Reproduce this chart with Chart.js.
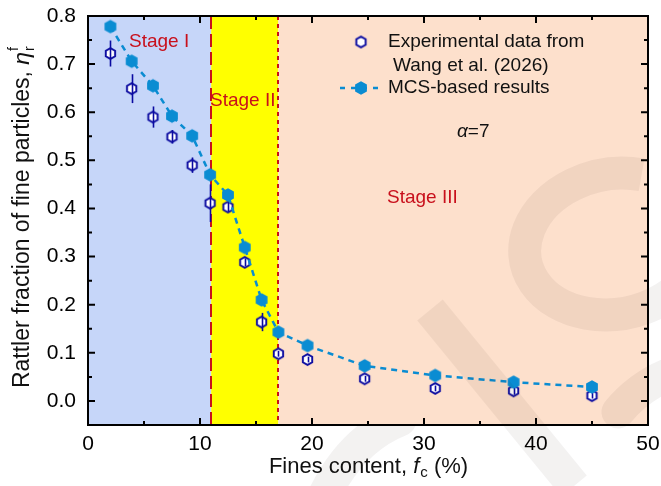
<!DOCTYPE html>
<html>
<head>
<meta charset="utf-8">
<script src="https://cdn.jsdelivr.net/npm/chart.js@4.4.1/dist/chart.umd.min.js"></script>
<style>html,body{margin:0;padding:0;background:#fff}</style>
</head>
<body>
<canvas id="chart" width="661" height="486"></canvas>
<script>
// values
const mcsX = [2, 3.9, 5.8, 7.5, 9.3, 10.9, 12.5, 14, 15.5, 17, 19.6, 24.7, 31, 38, 45];
const mcsY = [0.778, 0.706, 0.655, 0.592, 0.551, 0.470, 0.428, 0.319, 0.210, 0.143, 0.115, 0.073, 0.053, 0.039, 0.029];
const expX = [2, 3.9, 5.8, 7.5, 9.3, 10.9, 12.5, 14, 15.5, 17, 19.6, 24.7, 31, 38, 45];
const expY = [0.722, 0.649, 0.590, 0.549, 0.490, 0.411, 0.403, 0.288, 0.164, 0.098, 0.086, 0.046, 0.026, 0.021, 0.011];
const expErr = [0.027, 0.030, 0.022, 0.014, 0.016, 0.039, 0.010, 0.008, 0.019, 0.006, 0.006, 0.006, 0.006, 0.008, 0.006];
const stageEdges = [0, 11, 17, 50];
const stageNames = ['Stage I', 'Stage II', 'Stage III'];
const xTicks = [0, 10, 20, 30, 40, 50];
const yTicks = [0, 0.1, 0.2, 0.3, 0.4, 0.5, 0.6, 0.7, 0.8];

const FONT = '"Liberation Sans", Arial, sans-serif';
const NAVY = '#0a0aa0';
const BLUE = '#0a8cd2';
const RED = '#c8101c';

function hexagon(r, fill, stroke, lw) {
    var s = Math.ceil(2 * r + lw + 2);
    var c = document.createElement('canvas');
    c.width = s; c.height = s;
    var g = c.getContext('2d');
    g.beginPath();
    for (var i = 0; i < 6; i++) {
        var a = Math.PI / 2 + i * Math.PI / 3;
        var px = s / 2 + r * Math.cos(a), py = s / 2 + r * Math.sin(a);
        if (i) g.lineTo(px, py); else g.moveTo(px, py);
    }
    g.closePath();
    g.fillStyle = fill;
    g.fill();
    if (stroke) { g.lineWidth = lw; g.strokeStyle = stroke; g.stroke(); }
    return c;
}
var hexOpen = hexagon(5.4, '#ffffff', NAVY, 1.9);
var hexFull = hexagon(6.8, BLUE, null, 0);

function pts(xs, ys) { return xs.map(function (x, i) { return {x: x, y: ys[i]}; }); }

var decor = {
    id: 'decor',
    beforeDatasetsDraw: function (chart) {
        var ctx = chart.ctx, a = chart.chartArea, xs = chart.scales.x;
        var fills = ['#c6d6f9', '#ffff00', '#fde0cc'];
        ctx.save();
        for (var i = 0; i < 3; i++) {
            var x0 = xs.getPixelForValue(stageEdges[i]), x1 = xs.getPixelForValue(stageEdges[i + 1]);
            ctx.fillStyle = fills[i];
            ctx.fillRect(x0, a.top, x1 - x0, a.bottom - a.top);
        }
        ctx.strokeStyle = RED;
        ctx.lineWidth = 2;
        [[11, [13, 5]], [17, [4, 4]]].forEach(function (d) {
            var x = Math.round(xs.getPixelForValue(d[0]));
            ctx.setLineDash(d[1]);
            ctx.beginPath(); ctx.moveTo(x, a.top); ctx.lineTo(x, a.bottom); ctx.stroke();
        });
        ctx.setLineDash([]);
        ctx.fillStyle = RED;
        ctx.font = '19px ' + FONT;
        ctx.textBaseline = 'middle';
        ctx.fillText(stageNames[0], 129, 42);
        ctx.fillText(stageNames[1], 210, 101);
        ctx.fillText(stageNames[2], 387, 198);
        ctx.restore();
    },
    afterDatasetDraw: function (chart, args) {
        if (args.index !== 1) return;
        var ctx = chart.ctx, xs = chart.scales.x, ys = chart.scales.y;
        ctx.save();
        ctx.strokeStyle = NAVY;
        ctx.lineWidth = 1.6;
        expX.forEach(function (x, i) {
            var px = Math.round(xs.getPixelForValue(x)) + 0.5;
            ctx.beginPath();
            ctx.moveTo(px, ys.getPixelForValue(expY[i] + expErr[i]));
            ctx.lineTo(px, ys.getPixelForValue(expY[i] - expErr[i]));
            ctx.stroke();
        });
        ctx.restore();
    },
    afterDraw: function (chart) {
        var ctx = chart.ctx, a = chart.chartArea, xs = chart.scales.x, ys = chart.scales.y;
        ctx.save();
        // frame and inward ticks
        ctx.strokeStyle = '#000';
        ctx.lineWidth = 2;
        ctx.strokeRect(a.left, a.top, a.right - a.left, a.bottom - a.top);
        ctx.beginPath();
        for (var v = 0; v <= 50; v += 5) {
            var px = xs.getPixelForValue(v), len = v % 10 === 0 ? 7 : 4;
            ctx.moveTo(px, a.bottom); ctx.lineTo(px, a.bottom - len);
            ctx.moveTo(px, a.top); ctx.lineTo(px, a.top + len);
        }
        for (var k = 0; k <= 16; k++) {
            var py = ys.getPixelForValue(k * 0.05), l2 = k % 2 === 0 ? 7 : 4;
            ctx.moveTo(a.left, py); ctx.lineTo(a.left + l2, py);
            ctx.moveTo(a.right, py); ctx.lineTo(a.right - l2, py);
        }
        ctx.stroke();

        // legend
        ctx.drawImage(hexOpen, 361 - hexOpen.width / 2, 42 - hexOpen.height / 2);
        ctx.strokeStyle = BLUE;
        ctx.lineWidth = 2.5;
        ctx.setLineDash([5, 6]);
        ctx.beginPath(); ctx.moveTo(340, 88); ctx.lineTo(382, 88); ctx.stroke();
        ctx.setLineDash([]);
        ctx.drawImage(hexFull, 361 - hexFull.width / 2, 88 - hexFull.height / 2);
        ctx.fillStyle = '#111';
        ctx.font = '19px ' + FONT;
        ctx.textBaseline = 'middle';
        ctx.fillText('Experimental data from', 388, 42);
        ctx.fillText('Wang et al. (2026)', 393, 66);
        ctx.fillText('MCS-based results', 388, 88);
        ctx.font = 'italic 19px ' + FONT;
        var wa = ctx.measureText('\u03b1').width;
        ctx.fillText('\u03b1', 457, 132);
        ctx.font = '19px ' + FONT;
        ctx.fillText('=7', 457 + wa, 132);

        // x axis title
        ctx.font = '22px ' + FONT;
        var t1 = 'Fines content, ', t2 = ' (%)';
        var w1 = ctx.measureText(t1).width, w4 = ctx.measureText(t2).width;
        ctx.font = 'italic 22px ' + FONT;
        var w2 = ctx.measureText('f').width;
        ctx.font = '15px ' + FONT;
        var w3 = ctx.measureText('c').width;
        var x0 = 368 - (w1 + w2 + w3 + w4) / 2, yT = 467;
        ctx.font = '22px ' + FONT;
        ctx.fillText(t1, x0, yT);
        ctx.font = 'italic 22px ' + FONT;
        ctx.fillText('f', x0 + w1, yT);
        ctx.font = '15px ' + FONT;
        ctx.fillText('c', x0 + w1 + w2 + 1, yT + 6);
        ctx.font = '22px ' + FONT;
        ctx.fillText(t2, x0 + w1 + w2 + w3 + 1, yT);

        // y axis title
        ctx.translate(23, 216);
        ctx.rotate(-Math.PI / 2);
        ctx.font = '23px ' + FONT;
        var s1 = 'Rattler fraction of fine particles, ';
        var ws1 = ctx.measureText(s1).width;
        ctx.font = 'italic 23px ' + FONT;
        var we = ctx.measureText('\u03b7').width;
        var total = ws1 + we + 8;
        var sx = -total / 2;
        ctx.font = '23px ' + FONT;
        ctx.fillText(s1, sx, 0);
        ctx.font = 'italic 23px ' + FONT;
        ctx.fillText('\u03b7', sx + ws1, 0);
        ctx.font = '14px ' + FONT;
        ctx.fillText('f', sx + ws1 + we + 1, -9);
        ctx.fillText('r', sx + ws1 + we + 1, 7);
        ctx.restore();

        // faint watermark strokes
        ctx.save();
        ctx.strokeStyle = 'rgba(40,20,0,0.055)';
        ctx.lineWidth = 33;
        ctx.lineCap = 'butt';
        ctx.beginPath(); ctx.moveTo(430, 310); ctx.lineTo(574, 486); ctx.stroke();
        ctx.beginPath();
        ctx.ellipse(614, 244, 90, 70, -0.2, -1.1, 0.7, true);
        ctx.stroke();
        ctx.lineCap = 'round';
        ctx.beginPath(); ctx.moveTo(618, 412); ctx.quadraticCurveTo(640, 385, 675, 372); ctx.stroke();
        ctx.beginPath(); ctx.rect(0, a.bottom + 1, 661, 100); ctx.clip();
        ctx.beginPath(); ctx.moveTo(322, 500); ctx.quadraticCurveTo(350, 440, 400, 420); ctx.stroke();
        ctx.restore();
    }
};

new Chart(document.getElementById('chart'), {
    type: 'scatter',
    data: {
        datasets: [{
            label: 'MCS-based results',
            data: pts(mcsX, mcsY),
            showLine: true,
            borderColor: BLUE,
            borderWidth: 2.5,
            borderDash: [6, 5],
            pointStyle: hexFull,
            order: 0
        }, {
            label: 'Experimental data from Wang et al. (2026)',
            data: pts(expX, expY),
            showLine: false,
            pointStyle: hexOpen,
            order: 1
        }]
    },
    options: {
        responsive: false,
        animation: false,
        layout: {padding: {top: 16, right: 13, left: 0, bottom: 0}},
        plugins: {legend: {display: false}, tooltip: {enabled: false}},
        scales: {
            x: {
                type: 'linear', min: 0, max: 50,
                grid: {display: false, drawTicks: false},
                border: {display: false},
                afterBuildTicks: function (s) { s.ticks = xTicks.map(function (v) { return {value: v}; }); },
                afterFit: function (s) { s.height = 61; s.paddingLeft = 0; s.paddingRight = 0; },
                ticks: {color: '#000', padding: 7, maxRotation: 0, font: {family: FONT, size: 21}}
            },
            y: {
                type: 'linear', min: -0.05, max: 0.8,
                grid: {display: false, drawTicks: false},
                border: {display: false},
                afterBuildTicks: function (s) { s.ticks = yTicks.map(function (v) { return {value: v}; }); },
                afterFit: function (s) { s.width = 88; s.paddingTop = 0; s.paddingBottom = 0; },
                ticks: {color: '#000', padding: 12, font: {family: FONT, size: 21},
                    callback: function (v) { return v.toFixed(1); }}
            }
        }
    },
    plugins: [decor]
});
</script>
</body>
</html>
